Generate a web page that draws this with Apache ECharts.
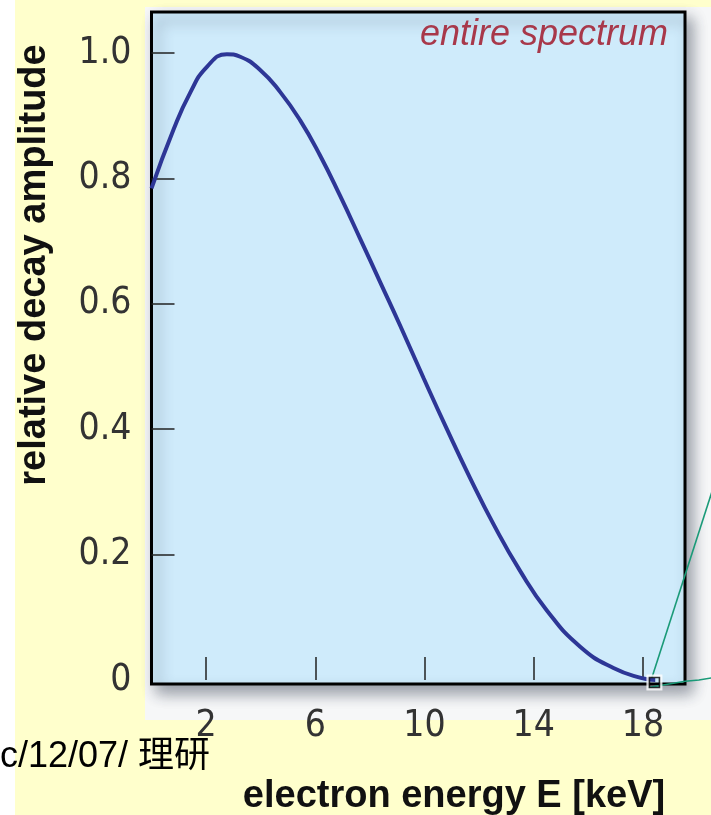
<!DOCTYPE html>
<html>
<head>
<meta charset="utf-8">
<script src="https://cdn.jsdelivr.net/npm/echarts@6/dist/echarts.min.js"></script>
<style>
  html, body { margin: 0; padding: 0; background: #FFFFCC; }
  #chart { width: 711px; height: 815px; }
</style>
</head>
<body>
<div id="chart"></div>
<script>
// ---- data ----
const energyKeV = [0, 0.8, 1.41, 2.03, 2.76, 3.25, 3.98, 4.71, 5.44, 6.17, 6.91, 7.64, 8.37, 9.11, 9.96, 10.82, 11.67, 12.52, 13.5, 14.48, 15.7, 16.92, 17.96, 18.45];
const amplitude = [0.784, 0.877, 0.936, 0.978, 0.998, 0.994, 0.973, 0.938, 0.893, 0.837, 0.772, 0.704, 0.635, 0.565, 0.482, 0.400, 0.322, 0.249, 0.174, 0.111, 0.053, 0.019, 0.003, 0];
const xTicks = [2, 6, 10, 14, 18];
const yTicks = [0, 0.2, 0.4, 0.6, 0.8, 1.0];
const yTickLabels = ['0', '0.2', '0.4', '0.6', '0.8', '1.0'];
const endpointMarker = [[18.42, -0.004]];
const zoomLineUpX = [18.3, 20.6];
const zoomLineUpY = [0.0, 0.31];
const zoomLineLowX = [18.2, 19.55, 20.05, 20.6];
const zoomLineLowY = [-0.012, -0.002, 0.0, 0.004];

const titleText = 'entire spectrum';
const xTitle = 'electron energy E [keV]';
const yTitle = 'relative decay amplitude';
const footText = 'c/12/07/ 理研';

const narrow = "'Liberation Sans Narrow', 'DejaVu Sans Condensed', 'Liberation Sans', sans-serif";
const bold = "'Liberation Sans', Arial, sans-serif";

const chart = echarts.init(document.getElementById('chart'), null, { renderer: 'canvas' });

const curve = energyKeV.map((e, i) => [e, amplitude[i]]);

const baseGraphic = [
  { type: 'rect', z: -10, shape: { x: 0, y: 0, width: 15, height: 815 }, style: { fill: '#FFFFFF' } },
  { type: 'rect', z: -10, shape: { x: 145, y: 7, width: 570, height: 713 }, style: { fill: '#F6F7F8' } },
  { type: 'text', z: 10, x: 668, y: 35,
    style: { text: titleText, fill: '#A8384A', font: "italic 36px " + bold, textAlign: 'right', textVerticalAlign: 'middle' } },
  { type: 'text', z: 10, x: 0, y: 757,
    style: { text: footText, fill: '#000', font: "36px 'Liberation Sans', 'Noto Sans CJK JP', sans-serif", textVerticalAlign: 'middle' } },
  { type: 'text', z: 10, x: 454, y: 797,
    style: { text: xTitle, fill: '#111', font: "bold 38px " + bold, textAlign: 'center', textVerticalAlign: 'middle' } },
  { type: 'text', z: 10, x: 35, y: 265, rotation: Math.PI / 2,
    style: { text: yTitle, fill: '#111', font: "bold 38px " + bold, textAlign: 'center', textVerticalAlign: 'middle' } }
];

chart.setOption({
  backgroundColor: '#FFFFCC',
  animation: false,
  graphic: baseGraphic,
  grid: {
    left: 151.5, top: 12, right: 26, bottom: 131,
    show: true,
    backgroundColor: '#CFEBFB',
    borderColor: '#000',
    borderWidth: 3,
    shadowColor: 'rgba(40,50,70,0.45)',
    shadowBlur: 14,
    shadowOffsetX: 6,
    shadowOffsetY: 8
  },
  xAxis: {
    type: 'value', min: 0, max: 19.54,
    axisLine: { show: false },
    splitLine: { show: false },
    axisTick: { show: true, inside: true, length: 23, customValues: xTicks, lineStyle: { color: '#222', width: 1.5 } },
    axisLabel: { customValues: xTicks, margin: 24, color: '#333', fontSize: 37, fontFamily: narrow }
  },
  yAxis: {
    type: 'value', min: -0.0064, max: 1.0654,
    axisLine: { show: false },
    splitLine: { show: false },
    axisTick: { show: true, inside: true, length: 23, customValues: yTicks.slice(1), lineStyle: { color: '#222', width: 1.5 } },
    axisLabel: { customValues: yTicks, margin: 20, color: '#333', fontSize: 37, fontFamily: narrow,
      formatter: v => yTickLabels[yTicks.findIndex(t => Math.abs(t - v) < 1e-6)] }
  },
  series: [
    { type: 'line', data: curve, smooth: 0.5, symbol: 'none', clip: false, z: 4,
      lineStyle: { color: '#2D3696', width: 4 } },
    { type: 'scatter', data: endpointMarker, clip: false, symbol: 'rect', symbolSize: 13, z: 5,
      itemStyle: { color: 'rgba(0,0,0,0)', borderColor: '#FFFFFF', borderWidth: 3 } },
    { type: 'scatter', data: endpointMarker, clip: false, symbol: 'rect', symbolSize: 10, z: 6,
      itemStyle: { color: 'rgba(0,0,0,0)', borderColor: '#000', borderWidth: 1.6 } }
  ]
});

// zoom callout lines, positioned through the chart's own axis scales
const toPx = (xs, ys) => xs.map((x, i) => chart.convertToPixel({ gridIndex: 0 }, [x, ys[i]]));
chart.setOption({
  graphic: baseGraphic.concat([
    { type: 'polyline', z: 3, shape: { points: toPx(zoomLineUpX, zoomLineUpY) },
      style: { stroke: '#1A9A78', lineWidth: 1.6, fill: null } },
    { type: 'polyline', z: 1, shape: { points: toPx(zoomLineLowX, zoomLineLowY) },
      style: { stroke: '#1A9A78', lineWidth: 1.6, fill: null } }
  ])
});
</script>
</body>
</html>
